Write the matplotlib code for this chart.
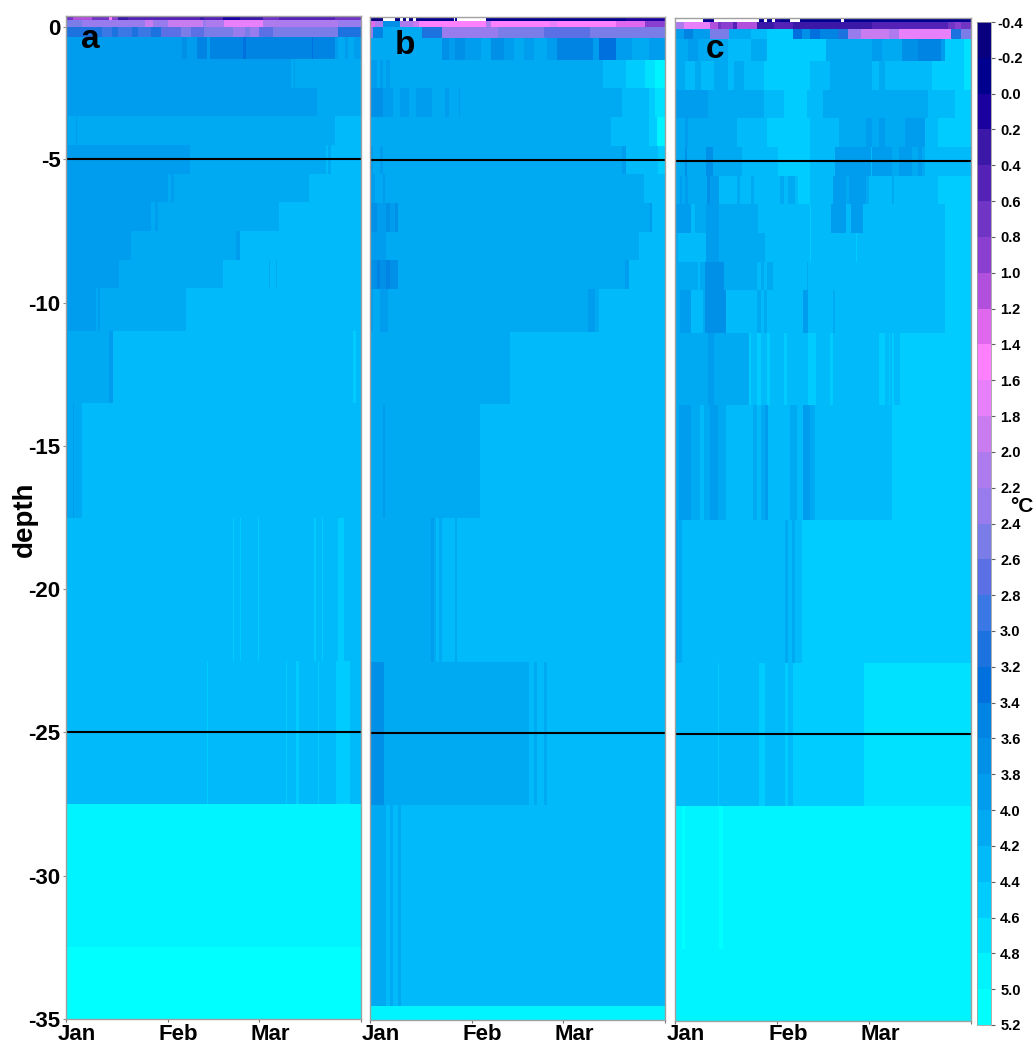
import numpy as np
import matplotlib
matplotlib.use('Agg')
import matplotlib.pyplot as plt
from matplotlib.colors import ListedColormap, BoundaryNorm
from matplotlib.transforms import ScaledTranslation

W, H = 1035, 1046
BOLD = ['Liberation Sans', 'DejaVu Sans']

# colour classes of the scale, shallow end first
levels = np.round(np.arange(-0.4, 5.21, 0.2), 1)
band_colors = ['#08007f', '#00008f', '#1b00a0', '#3c18a8', '#5522b8', '#7035c5', '#8a3fd0',
               '#b050dc', '#e068ee', '#ff80ff', '#e880fc', '#c87cf0', '#ae7bee', '#987cee',
               '#7a7ce8', '#5a70e4', '#3a78e6', '#1c72de', '#0070de', '#0084e4', '#0090e8',
               '#009cee', '#00aaf2', '#00bafa', '#00ccff', '#00e0ff', '#00f4ff', '#00ffff']

depth_edges = [0, -0.14, -0.38, -0.75, -1.5, -2.5, -3.5, -4.5, -5.5, -6.5, -7.5, -8.5, -9.5,
               -11, -13.5, -17.5, -22.5, -27.5, -32.5, -34.5, -35]
month_days = [0, 31, 59, 90]
month_names = ['Jan', 'Feb', 'Mar', '']
depth_ticks = [-0.38, -5, -10, -15, -20, -25, -30, -35]
depth_labels = ['0', '-5', '-10', '-15', '-20', '-25', '-30', '-35']
marked_depths = [-5, -25]

panel_a = [
    [(2, 0.7), (8, 1.1), (13, 0.7), (14, 1.5), (16, 0.9), (19, 0.3), (41, 0.5), (42, 0.3), (48, 0.5),
     (53, 0.1), (60, 0.3), (65, 0.7), (82, 0.5), (90, 0.7)],
    [(5, 2.5), (24, 2.3), (26.5, 1.9), (31, 2.3), (41.7, 1.9), (42.7, 2.3), (48.3, 2.1), (60, 1.7),
     (63, 2.1), (83, 2.1), (90, 2.3)],
    [(11, 3.1), (14, 2.9), (16, 3.1), (20, 2.9), (22, 3.1), (26, 2.9), (29, 3.1), (31.5, 2.7), (35, 2.7),
     (38, 2.5), (42, 2.7), (45, 2.5), (51, 2.5), (54.5, 2.3), (56, 2.5), (59, 2.3), (63, 2.7), (83, 2.5),
     (90, 3.1)],
    [(35.6, 3.9), (37, 3.7), (40, 3.9), (43, 3.5), (44, 3.9), (54, 3.5), (55, 3.3), (57, 3.5), (75, 3.5),
     (75.5, 3.3), (82, 3.5), (83, 3.9), (85, 4.1), (86, 3.9), (88, 4.1), (90, 3.9)],
    [(68.5, 3.9), (69.5, 4.1), (70, 3.9), (90, 4.1)],
    [(76.5, 3.9), (90, 4.1)],
    [(0.5, 3.9), (3, 4.1), (3.5, 3.9), (82, 4.1), (90, 4.3)],
    [(37.7, 3.9), (79.3, 4.1), (80, 4.3), (81, 4.1), (90, 4.3)],
    [(31, 3.9), (32, 4.1), (33, 3.9), (74.3, 4.1), (90, 4.3)],
    [(26, 3.9), (27, 4.1), (28, 3.9), (65, 4.1), (90, 4.3)],
    [(19.8, 3.9), (52, 4.1), (53, 3.9), (90, 4.3)],
    [(16.3, 3.9), (47.8, 4.1), (62, 4.3), (62.3, 4.1), (64, 4.3), (64.5, 4.1), (90, 4.3)],
    [(9.2, 3.9), (9.8, 4.1), (10.5, 3.9), (36.4, 4.1), (90, 4.3)],
    [(0.5, 3.9), (13, 4.1), (14.2, 3.9), (87.5, 4.3), (88.5, 4.5), (90, 4.3)],
    [(0.5, 3.9), (2, 4.1), (2.5, 3.9), (5, 4.1), (90, 4.3)],
    [(51, 4.3), (51.25, 4.5), (53, 4.3), (53.25, 4.5), (58.5, 4.3), (58.75, 4.5), (75.7, 4.3), (76.2, 4.5),
     (78, 4.3), (78.5, 4.5), (83, 4.3), (84.8, 4.5), (90, 4.3)],
    [(43, 4.3), (43.25, 4.5), (67.3, 4.3), (67.55, 4.5), (70.3, 4.3), (71, 4.5), (77, 4.3), (77.25, 4.5),
     (81, 4.3), (82.4, 4.3), (86.6, 4.5), (90, 4.3)],
    [(90, 4.9)],
    [(90, 5.1)],
    [(90, 5.1)],
]

panel_b = [
    [(4, -0.3), (7.5, np.nan), (9, -0.3), (10, np.nan), (11, -0.3), (12, np.nan), (13, -0.3), (14, np.nan),
     (15, -0.3), (25.5, -0.1), (26, np.nan), (26.5, -0.1), (27.5, np.nan), (35.6, np.nan), (78, -0.1),
     (90, 0.1)],
    [(1.5, 1.3), (4, 2.1), (9, 3.7), (13, 2.1), (15, 1.9), (35.6, 1.5), (37, 2.1), (55, 1.5), (57, 1.7),
     (75, 1.5), (84, 1.3), (90, 0.9)],
    [(1, 2.3), (4, 3.5), (16, 4.0), (22, 3.1), (39, 2.3), (53, 2.5), (67, 2.7), (90, 2.5)],
    [(22, 4.1), (24, 3.7), (26, 3.9), (29, 3.7), (34, 3.9), (37, 4.1), (41, 3.7), (44, 3.9), (47, 4.1),
     (50, 3.9), (54, 4.1), (57, 3.9), (61, 3.5), (68, 3.5), (70, 3.9), (75, 3.3), (80, 3.9), (85, 4.1), (90, 3.9)],
    [(2, 3.9), (3, 4.1), (4, 3.9), (5, 4.1), (6, 3.9), (7, 4.1), (71, 4.1), (78, 4.3), (84, 4.5), (87, 4.7), (90, 4.9)],
    [(4, 3.7), (7, 3.9), (9, 4.1), (12, 3.9), (14, 4.1), (16, 3.9), (19, 3.9), (23, 4.1), (24, 3.9), (27, 4.1),
     (27.5, 3.9), (77, 4.1), (85, 4.3), (87, 4.5), (90, 4.7)],
    [(73.5, 4.1), (85, 4.3), (87.5, 4.5), (90, 4.9)],
    [(1, 3.9), (3, 4.1), (4, 3.9), (6, 4.1), (77, 4.1), (78, 3.9), (79, 4.3), (88, 4.3), (90, 4.5)],
    [(1.5, 3.9), (4, 4.1), (4.5, 3.9), (7, 4.1), (83.4, 4.1), (90, 4.3)],
    [(2, 3.7), (5, 3.9), (6, 3.7), (7.5, 3.9), (8.5, 3.7), (85.5, 4.1), (86, 3.9), (90, 4.3)],
    [(5, 3.9), (81.9, 4.1), (90, 4.3)],
    [(2, 3.7), (3, 3.5), (5, 3.7), (6, 3.5), (8.5, 3.7), (77.8, 4.1), (79, 3.9), (90, 4.3)],
    [(1, 3.9), (3, 4.1), (4, 3.9), (5.5, 3.9), (66.6, 4.1), (68.5, 3.9), (70, 4.1), (90, 4.3)],
    [(42.7, 4.1), (90, 4.3)],
    [(4, 4.1), (4.5, 3.9), (33.5, 4.1), (90, 4.3)],
    [(18.5, 4.1), (19.5, 3.9), (20, 4.1), (21, 4.3), (22, 4.1), (26, 4.3), (26.5, 4.1), (90, 4.3)],
    [(4.2, 3.7), (48.4, 4.1), (50, 4.3), (51, 4.1), (53, 4.3), (54, 4.1), (90, 4.3)],
    [(5, 4.1), (6, 4.3), (7, 4.1), (8.5, 4.3), (9.5, 4.1), (90, 4.3)],
    [(5, 4.1), (6, 4.3), (7, 4.1), (8.5, 4.3), (9.5, 4.1), (90, 4.3)],
    [(90, 4.9)],
]

panel_c = [
    [(8.6, np.nan), (11.8, -0.1), (25.4, np.nan), (27, -0.1), (28, np.nan), (29.5, -0.1), (30.5, np.nan),
     (32, 0.1), (35, -0.1), (38, np.nan), (50.5, -0.1), (51.5, np.nan), (90, -0.1)],
    [(2.8, 2.1), (10.5, 1.6), (13, 1.1), (14, 0.7), (17.5, 0.9), (19, 0.5), (21, 1.1), (25, 1.1), (30, 0.3),
     (36, 0.5), (60, 0.3), (70, 0.5), (83, 0.5), (85, 0.7), (87, 0.9), (90, 0.7)],
    [(2.8, 3.9), (5.4, 3.5), (10.5, 3.9), (16.5, 2.5), (23, 4.1), (28, 4.3), (35.8, 4.5), (38.5, 3.3),
     (41, 3.7), (44, 3.3), (49.5, 3.5), (52.5, 3.1), (56.5, 2.3), (65, 1.9), (68, 2.1), (84, 1.7), (87, 3.1), (90, 2.5)],
    [(4, 4.1), (7, 3.9), (16, 4.1), (23, 4.3), (28, 4.1), (36, 4.5), (46, 4.5), (50, 4.1), (60, 4.1),
     (63, 3.9), (69, 4.1), (74, 3.7), (81, 3.5), (82, 3.9), (85, 4.5), (88, 4.5), (90, 4.7)],
    [(3, 4.1), (6, 4.3), (8, 4.1), (12, 4.3), (16, 4.1), (18, 4.3), (21, 4.1), (27, 4.3), (41, 4.5),
     (47, 4.3), (60, 4.1), (62, 4.3), (64, 4.1), (78, 4.3), (88, 4.5), (90, 4.7)],
    [(10, 3.9), (27, 4.1), (33, 4.3), (40, 4.5), (45, 4.3), (77, 4.1), (85, 4.3), (90, 4.5)],
    [(3, 4.1), (4, 3.9), (15.5, 4.1), (19, 4.1), (28, 4.3), (41, 4.5), (50, 4.3), (58, 4.1), (60, 3.9),
     (62, 4.1), (64, 3.9), (70, 4.1), (76, 3.9), (80, 4.3), (90, 4.5)],
    [(3, 4.1), (3.6, 3.7), (9.6, 4.1), (11.5, 3.7), (20.5, 4.1), (21, 4.3), (31.3, 4.3), (41, 4.5), (48.5, 4.3),
     (59.5, 3.9), (60, 4.3), (61, 3.9), (66, 3.9), (68, 4.1), (72, 3.9), (74, 4.1), (75, 3.9), (76, 4.1), (90, 4.3)],
    [(1.5, 4.1), (2, 3.9), (3, 4.1), (4, 3.9), (9.65, 4.1), (10.5, 3.7), (13.5, 3.9), (19, 4.3), (19.7, 4.1),
     (23, 4.3), (24, 4.1), (25, 4.3), (32, 4.3), (33, 4.1), (34.5, 4.3), (36.5, 4.1), (37.4, 4.3), (41, 4.5),
     (48, 4.3), (52, 3.9), (53, 4.1), (58, 3.9), (59, 4.1), (66, 4.3), (66.5, 4.1), (80, 4.3), (90, 4.5)],
    [(4.9, 3.9), (6, 4.3), (9.5, 4.1), (13.5, 3.9), (25.2, 4.1), (41, 4.3), (41.3, 4.5), (47.6, 4.3), (52, 3.9),
     (53.5, 4.3), (57.2, 3.9), (82, 4.3), (90, 4.5)],
    [(1, 4.1), (9.5, 4.3), (13.5, 3.9), (27.5, 4.1), (41, 4.3), (41.3, 4.5), (55, 4.3), (55.3, 4.5), (82, 4.3), (90, 4.5)],
    [(7, 4.1), (7.6, 4.3), (9, 4.1), (15, 3.7), (25, 4.1), (26, 4.3), (27, 4.1), (28, 4.3), (29.8, 4.1),
     (40, 4.3), (40.5, 4.1), (82, 4.3), (90, 4.5)],
    [(1.5, 4.1), (4.7, 3.9), (8.5, 4.3), (9, 4.1), (15.5, 3.7), (25, 4.3), (26, 4.1), (27, 4.3), (28, 4.1),
     (29, 4.3), (39, 4.3), (40.5, 3.9), (48, 4.3), (48.5, 4.1), (82, 4.3), (90, 4.5)],
    [(10, 4.1), (12, 3.9), (22.5, 4.1), (23, 4.5), (25, 4.3), (26, 4.5), (28, 4.3), (29, 4.5), (33, 4.3), (34, 4.5),
     (40.5, 4.3), (43, 4.5), (47, 4.3), (48, 4.5), (62, 4.3), (64, 4.5), (65, 4.3), (65.5, 4.5), (66, 4.3),
     (66.5, 4.5), (68.5, 4.3), (90, 4.5)],
    [(1.3, 4.1), (4.7, 3.9), (7.7, 4.1), (8.7, 4.3), (10.5, 4.1), (13, 3.9), (15.6, 4.1), (23.7, 4.3), (25, 4.1),
     (26, 4.3), (27.5, 4.1), (28.3, 3.9), (34.9, 4.3), (37, 4.1), (39, 4.3), (41, 3.9), (42.5, 4.1), (65.9, 4.3),
     (90, 4.5)],
    [(0.7, 3.9), (2, 4.1), (33.5, 4.3), (34.5, 4.1), (35.5, 4.3), (36.5, 4.1), (38.5, 4.3), (90, 4.5)],
    [(13, 4.3), (13.5, 4.5), (25.5, 4.3), (27.5, 4.5), (33.5, 4.3), (34.5, 4.5), (36, 4.3), (37.5, 4.5),
     (57.5, 4.5), (59, 4.7), (90, 4.7)],
    [(2, 4.9), (3, 5.1), (13.5, 4.9), (14.5, 5.1), (90, 4.9)],
    [(90, 4.9)],
    [(90, 4.9)],
]


def layer_grid(runs, t_mid):
    # expand the runs of each layer on a common time axis
    z = np.full((len(runs), t_mid.size), np.nan)
    for row, layer in enumerate(runs):
        start = 0
        for end, val in layer:
            z[row, (t_mid >= start) & (t_mid < end)] = val
            start = end
    return np.ma.masked_invalid(z)


def px_axes(left, top, right, bottom):
    return fig.add_axes([left / W, 1 - bottom / H, (right - left) / W, (bottom - top) / H])


t_edges = np.arange(0, 90.01, 0.25)
t_mid = 0.5 * (t_edges[:-1] + t_edges[1:])
cmap = ListedColormap(band_colors)
norm = BoundaryNorm(levels, cmap.N)

fig = plt.figure(figsize=(W / 100, H / 100), dpi=100)

boxes = [(66, 16, 361, 1019), (370, 16.5, 665, 1020), (675, 18, 971, 1021)]
panels = [panel_a, panel_b, panel_c]
letters = ['a', 'b', 'c']
letter_xy = [(90, 40), (405, 45), (715, 50)]
label_drop = [2, 1, 0]

for box, runs, letter, xy, drop in zip(boxes, panels, letters, letter_xy, label_drop):
    ax = px_axes(*box)
    mesh = ax.pcolormesh(t_edges, depth_edges, layer_grid(runs, t_mid), cmap=cmap, norm=norm,
                         shading='flat', rasterized=True)
    ax.set_xlim(0, 90)
    ax.set_ylim(-35, 0)
    for d in marked_depths:
        ax.axhline(d, color='black', lw=1.5)
    for side in ax.spines.values():
        side.set_color('#a0a0a0')
        side.set_linewidth(1.0)

    ax.set_xticks(month_days, month_names, fontfamily=BOLD, fontweight='bold', fontsize=16)
    ax.tick_params(axis='x', length=2.5, width=0.8, color='#707070', pad=0)
    shift = ScaledTranslation(11 / 100, -drop / 100, fig.dpi_scale_trans)
    for lab in ax.get_xticklabels():
        lab.set_transform(lab.get_transform() + shift)

    if letter == 'a':
        ax.set_yticks(depth_ticks, depth_labels, fontfamily=BOLD, fontweight='bold', fontsize=16)
        ax.tick_params(axis='y', length=2.5, width=0.8, color='#909090', pad=1.5)
    else:
        ax.set_yticks([])
    fig.text(xy[0] / W, 1 - xy[1] / H, letter, fontfamily=BOLD, fontweight='bold', fontsize=24,
             ha='center', va='center', color='black')

cax = px_axes(977, 22, 991, 1025)
cb = fig.colorbar(mesh, cax=cax, boundaries=levels, ticks=levels, drawedges=False)
cax.invert_yaxis()
cb.outline.set_edgecolor('#a0a0a0')
cb.outline.set_linewidth(0.6)
cax.set_yticks(levels, ['%.1f' % v for v in levels], fontfamily=BOLD, fontweight='bold', fontsize=10.5, ha='center')
cax.tick_params(axis='y', length=3, width=0.8, color='#606060', pad=11)

fig.text(25 / W, 1 - 519 / H, 'depth', rotation=90, fontfamily=BOLD, fontweight='bold', fontsize=20,
         ha='center', va='center')
fig.text(1022 / W, 1 - 507 / H, '°C', fontfamily=BOLD, fontweight='bold', fontsize=15, ha='center', va='center')

fig.savefig('out.png', dpi=100)
